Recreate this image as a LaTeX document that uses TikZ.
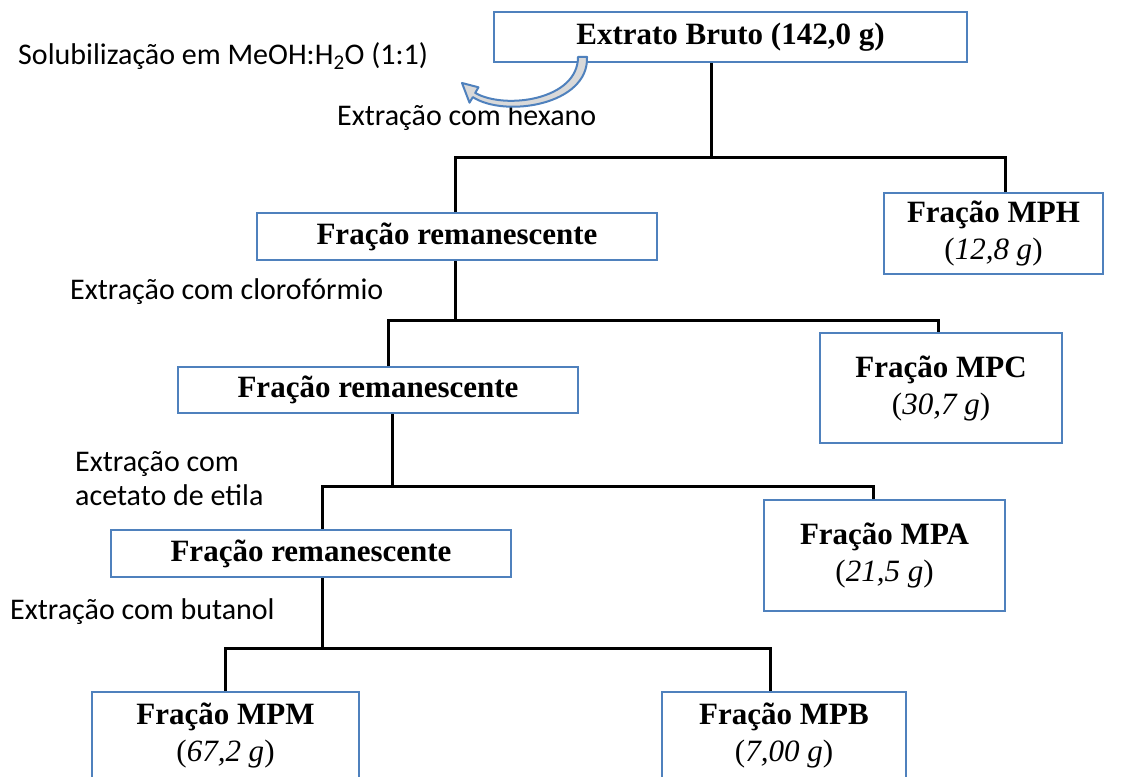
\documentclass[tikz,border=0pt]{standalone}
\usepackage{fontspec}
\setmainfont{Liberation Serif}
\newfontfamily\lab{Carlito}
\definecolor{boxblue}{HTML}{4F81BD}
\begin{document}
\begin{tikzpicture}[x=1pt,y=-1pt,
  box/.style={draw=boxblue,line width=2.8pt,fill=white,inner sep=0pt,align=center,font=\fontsize{31}{37}\selectfont\bfseries},
  conn/.style={line width=3pt,black},
  lbl/.style={anchor=west,inner sep=0pt,font=\lab\fontsize{30}{34}\selectfont,align=left}]
\useasboundingbox (0,0) rectangle (1129,776);
\clip (0,0) rectangle (1129,776);
\newcommand{\gm}[1]{\textnormal{(\textit{#1})}}
% nodes
\node[box,minimum width=473pt,minimum height=50pt] (eb) at (730.5,37) {Extrato Bruto (142,0 g)};
\node[box,minimum width=219pt,minimum height=81pt] (mph) at (993.5,233.5) {Fração MPH\\\gm{12,8 g}};
\node[box,minimum width=400pt,minimum height=47pt] (r1) at (457,236.5) {Fração remanescente};
\node[box,minimum width=242pt,minimum height=110pt] (mpc) at (941,388) {Fração MPC\\\gm{30,7 g}};
\node[box,minimum width=400pt,minimum height=46pt] (r2) at (378,390) {Fração remanescente};
\node[box,minimum width=241pt,minimum height=111pt] (mpa) at (884.5,555.5) {Fração MPA\\\gm{21,5 g}};
\node[box,minimum width=400pt,minimum height=47pt] (r3) at (311,553.5) {Fração remanescente};
\node[box,minimum width=267pt,minimum height=86pt] (mpm) at (225.5,735) {Fração MPM\\\gm{67,2 g}};
\node[box,minimum width=244pt,minimum height=86pt] (mpb) at (784,735) {Fração MPB\\\gm{7,00 g}};
% labels
\node[lbl] (sol) at (18,56) {Solubilização em MeOH:H\textsubscript{2}O (1:1)};
\node[lbl] (hex) at (337,118) {Extração com hexano};
\node[lbl] (clo) at (70,292) {Extração com clorofórmio};
\node[lbl] (ace) at (75,479) {Extração com\\acetato de etila};
\node[lbl] (but) at (10,612) {Extração com butanol};
% junction coordinates
\coordinate (h1L) at (455,157); \coordinate (h1R) at (1005,157);
\coordinate (h2L) at (388,320); \coordinate (h2R) at (938,320);
\coordinate (v3) at (392,486);
\coordinate (h3L) at (322,486); \coordinate (h3R) at (873,486);
\coordinate (h4L) at (225,648); \coordinate (h4R) at (770,648);
% connectors
\draw[conn] ([xshift=-19.5]eb.south) -- ([xshift=-19.5]eb.south |- h1L);
\draw[conn] (r1.north -| h1L) -- (h1L) -- (h1R) -- (mph.north -| h1R);
\draw[conn] (r1.south -| h1L) -- (h1L |- h2L);
\draw[conn] (r2.north -| h2L) -- (h2L) -- (h2R) -- (mpc.north -| h2R);
\draw[conn] (r2.south -| v3) -- (v3);
\draw[conn] (r3.north -| h3L) -- (h3L) -- (h3R) -- (mpa.north -| h3R);
\draw[conn] (r3.south -| h3L) -- (h3L |- h4L);
\draw[conn] (mpm.north -| h4L) -- (h4L) -- (h4R) -- (mpb.north -| h4R);
% curved arrow
\draw[boxblue,line width=2pt,fill=gray!30,line join=round]
  (587,57) .. controls (589,105) and (505,118) .. (472.8,97.1)
  -- (469.5,102.7) -- (462,83) -- (478.5,87.3) -- (475.2,92.9)
  .. controls (505,110) and (578,100) .. (578,57) -- cycle;
\end{tikzpicture}
\end{document}
